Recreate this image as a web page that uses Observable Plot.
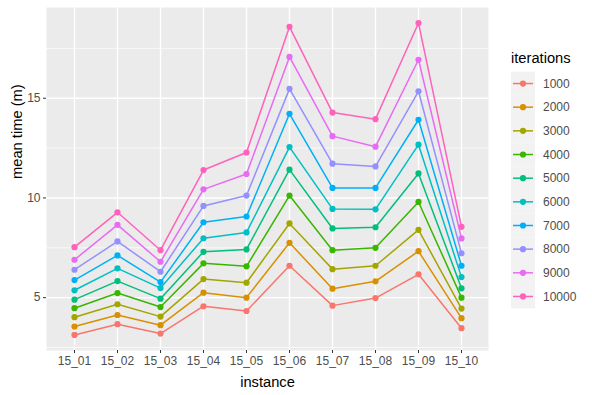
<!DOCTYPE html>
<html>
<head>
<meta charset="utf-8">
<script src="https://cdn.jsdelivr.net/npm/d3@7"></script>
<script src="https://cdn.jsdelivr.net/npm/@observablehq/plot@0.6"></script>
<style>
  html, body { margin: 0; padding: 0; background: #ffffff; }
  #chart { position: relative; width: 592px; height: 395px; }
  svg { font-family: "Liberation Sans", Arial, Helvetica, sans-serif; }
</style>
</head>
<body>
<div id="chart"></div>
<script>
const instances = ["15_01","15_02","15_03","15_04","15_05","15_06","15_07","15_08","15_09","15_10"];
const iterations = ["1000","2000","3000","4000","5000","6000","7000","8000","9000","10000"];
const colors = ["#F8766D","#D89000","#A3A500","#39B600","#00BF7D","#00BFC4","#00B0F6","#9590FF","#E76BF3","#FF62BC"];
const yTicks = [5, 10, 15];
const yMinor = [2.5, 7.5, 12.5, 17.5];

const it1000  = [3.13, 3.67, 3.20, 4.57, 4.33, 6.60, 4.60, 4.98, 6.17, 3.47];
const it2000  = [3.55, 4.13, 3.62, 5.25, 5.00, 7.75, 5.45, 5.82, 7.33, 3.97];
const it3000  = [4.02, 4.67, 4.05, 5.93, 5.75, 8.72, 6.43, 6.60, 8.40, 4.45];
const it4000  = [4.47, 5.23, 4.53, 6.72, 6.57, 10.12, 7.38, 7.50, 9.80, 5.00];
const it5000  = [4.90, 5.83, 4.95, 7.30, 7.42, 11.42, 8.47, 8.53, 11.23, 5.47];
const it6000  = [5.37, 6.47, 5.48, 7.98, 8.27, 12.55, 9.45, 9.43, 12.67, 6.03];
const it7000  = [5.88, 7.12, 5.78, 8.78, 9.07, 14.22, 10.50, 10.50, 13.92, 6.60];
const it8000  = [6.40, 7.82, 6.30, 9.60, 10.12, 15.47, 11.72, 11.58, 15.35, 7.22];
const it9000  = [6.90, 8.65, 6.80, 10.43, 11.20, 17.07, 13.10, 12.57, 16.93, 7.97];
const it10000 = [7.53, 9.28, 7.38, 11.40, 12.28, 18.58, 14.28, 13.95, 18.77, 8.55];

const series = [it1000, it2000, it3000, it4000, it5000, it6000, it7000, it8000, it9000, it10000];
const data = [];
series.forEach((vals, i) => vals.forEach((v, j) => data.push({instance: instances[j], iterations: iterations[i], time: v})));

const textCol = "#4d4d4d";
const chart = Plot.plot({
  width: 592,
  height: 395,
  marginLeft: 46,
  marginRight: 104,
  marginTop: 7,
  marginBottom: 45,
  style: {fontFamily: '"Liberation Sans", Arial, Helvetica, sans-serif', background: "#ffffff"},
  x: {type: "point", domain: instances, padding: 0.6, label: null},
  y: {domain: [2.35, 19.55], label: null},
  color: {type: "ordinal", domain: iterations, range: colors},
  marks: [
    Plot.frame({fill: "#ebebeb", stroke: null}),
    Plot.ruleY(yMinor, {stroke: "#ffffff", strokeWidth: 0.7}),
    Plot.ruleY(yTicks, {stroke: "#ffffff", strokeWidth: 1.4}),
    Plot.ruleX(instances, {stroke: "#ffffff", strokeWidth: 1.4}),
    Plot.line(data, {x: "instance", y: "time", stroke: "iterations", z: "iterations", strokeWidth: 1.5}),
    Plot.dot(data, {x: "instance", y: "time", fill: "iterations", r: 3.1}),
    Plot.axisX({tickSize: 3, tickPadding: 3, stroke: "#333333", fill: textCol, fontSize: 12, label: null}),
    Plot.axisY({ticks: yTicks, tickSize: 3, tickPadding: 3, stroke: "#333333", fill: textCol, fontSize: 12, label: null}),
    Plot.text(["instance"], {frameAnchor: "bottom", dy: 36, fontSize: 14.7, fill: "#000000"}),
    Plot.text(["mean time (m)"], {frameAnchor: "left", dx: -29, rotate: -90, fontSize: 14.7, fill: "#000000"})
  ]
});

document.getElementById("chart").appendChild(chart);

// Legend drawn into the same SVG
const svg = d3.select(chart);
const g = svg.append("g").attr("class", "legend").attr("text-anchor", "start");
g.append("text")
  .attr("x", 511).attr("y", 63).attr("text-anchor", "start")
  .attr("font-size", 14.7).attr("fill", "#000000")
  .text("iterations");
const keyTop = 71.7, keyH = 23.66, keyX = 511, keyW = 24;
const col = chart.scale("color");
iterations.forEach((it, i) => {
  const y0 = keyTop + i * keyH;
  const cy = y0 + keyH / 2;
  const c = col.apply(it);
  g.append("rect").attr("x", keyX).attr("y", y0).attr("width", keyW).attr("height", keyH).attr("fill", "#f2f2f2");
  g.append("line").attr("x1", keyX + 2).attr("x2", keyX + keyW - 2).attr("y1", cy).attr("y2", cy)
    .attr("stroke", c).attr("stroke-width", 1.5);
  g.append("circle").attr("cx", keyX + keyW / 2).attr("cy", cy).attr("r", 3.1).attr("fill", c);
  g.append("text").attr("x", 543).attr("y", cy).attr("dy", "0.35em").attr("text-anchor", "start")
    .attr("font-size", 12).attr("fill", textCol).text(it);
});
</script>
</body>
</html>
